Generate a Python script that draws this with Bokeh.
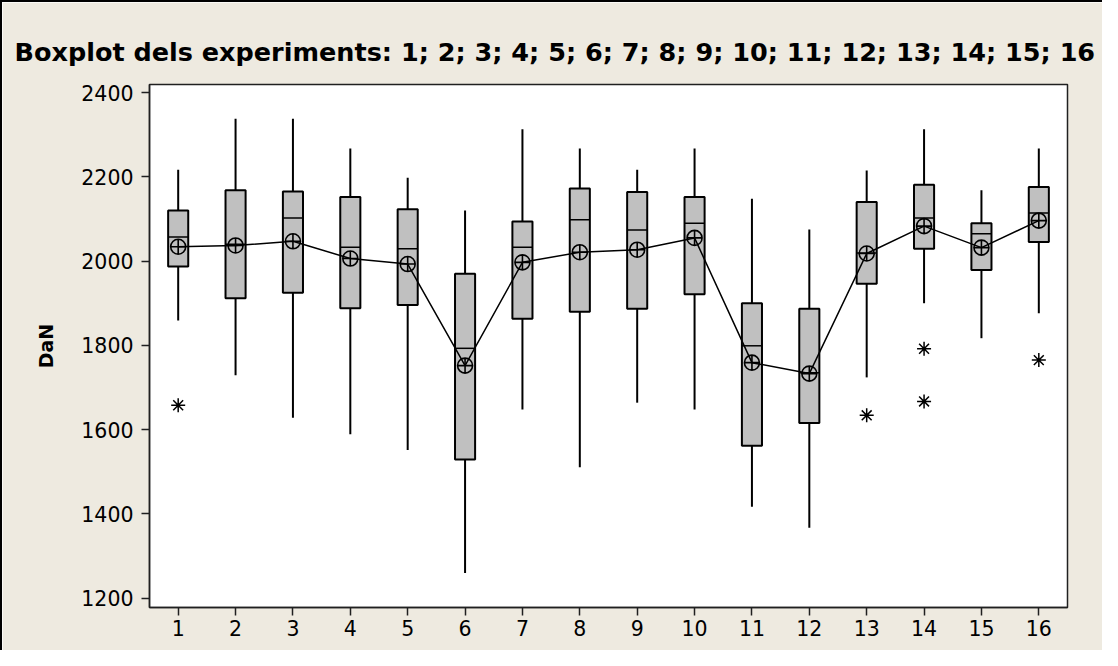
from bokeh.plotting import figure
from bokeh.models import Range1d, FixedTicker
from bokeh.embed import file_html
from bokeh.resources import INLINE

# ---- data ----
experiments = [1, 2, 3, 4, 5, 6, 7, 8, 9, 10, 11, 12, 13, 14, 15, 16]
whisker_high = [2217, 2338, 2338, 2267, 2198, 2120, 2313, 2267, 2217, 2267, 2148, 2075, 2215, 2313, 2168, 2267]
q3 = [2120, 2168, 2165, 2152, 2123, 1970, 2094, 2172, 2164, 2152, 1900, 1887, 2140, 2181, 2090, 2176]
median = [2057, 2040, 2102, 2033, 2029, 1793, 2033, 2098, 2074, 2090, 1799, 1735, 2019, 2102, 2065, 2114]
q1 = [1987, 1912, 1925, 1888, 1896, 1529, 1863, 1880, 1887, 1921, 1562, 1616, 1946, 2029, 1979, 2045]
whisker_low = [1859, 1729, 1628, 1589, 1552, 1260, 1648, 1511, 1664, 1648, 1417, 1367, 1724, 1900, 1817, 1876]
mean = [2034, 2037, 2047, 2006, 1993, 1752, 1997, 2021, 2027, 2055, 1759, 1733, 2018, 2083, 2032, 2096]
outlier_x = [1, 13, 14, 14, 16]
outlier_y = [1658, 1634, 1792, 1667, 1765]

title_text = "Boxplot dels experiments: 1; 2; 3; 4; 5; 6; 7; 8; 9; 10; 11; 12; 13; 14; 15; 16"
y_ticks = [1200, 1400, 1600, 1800, 2000, 2200, 2400]

BEIGE = "#EEEAE0"
BOX_W = 0.35
FONT = "DejaVu Sans"

p = figure(width=1102, height=650, output_backend="svg", toolbar_location=None,
           x_range=Range1d(0.5, 16.5), y_range=Range1d(1178, 2419),
           min_border_left=147, min_border_right=37, min_border_top=82, min_border_bottom=45)

p.background_fill_color = "white"
p.border_fill_color = BEIGE
p.outline_line_color = "#202020"
p.outline_line_width = 1.5
p.xgrid.visible = False
p.ygrid.visible = False

p.title.text = title_text
p.title.text_font = FONT
p.title.text_font_style = "bold"
p.title.text_font_size = "25.5px"
p.title.text_color = "black"
p.title.align = "left"
p.title.offset = -135
p.title.standoff = 35

for ax in (p.xaxis[0], p.yaxis[0]):
    ax.axis_line_color = "#202020"
    ax.axis_line_width = 1.5
    ax.major_tick_line_color = "#202020"
    ax.major_tick_line_width = 1.5
    ax.major_tick_out = 8
    ax.major_tick_in = 0
    ax.minor_tick_line_color = None
    ax.major_label_text_font = FONT
    ax.major_label_text_font_size = "20.5px"
    ax.major_label_text_color = "black"

p.xaxis.ticker = FixedTicker(ticks=experiments)
p.xaxis.major_label_standoff = 4
p.yaxis.ticker = FixedTicker(ticks=y_ticks)
p.yaxis.major_label_standoff = 8
p.yaxis.axis_label = "DaN"
p.yaxis.axis_label_text_font = FONT
p.yaxis.axis_label_text_font_style = "bold"
p.yaxis.axis_label_text_font_size = "19px"
p.yaxis.axis_label_text_color = "black"
p.yaxis.axis_label_standoff = 21

# whiskers
p.segment(x0=experiments, y0=whisker_low, x1=experiments, y1=whisker_high,
          line_color="black", line_width=2)
# boxes
p.vbar(x=experiments, width=BOX_W, bottom=q1, top=q3,
       fill_color="#C0C0C0", line_color="black", line_width=2)
# medians
p.segment(x0=[x - BOX_W / 2 for x in experiments], y0=median,
          x1=[x + BOX_W / 2 for x in experiments], y1=median,
          line_color="black", line_width=1.5)
# mean connect line
p.line(experiments, mean, line_color="black", line_width=1.5)
p.scatter(experiments, mean, marker="circle_cross", size=15,
          fill_alpha=0, line_color="black", line_width=1.6)
# outliers
p.scatter(outlier_x, outlier_y, marker="asterisk", size=14,
          line_color="black", line_width=1.5)

p.styles = {"border-top": "2px solid black", "border-left": "2px solid black"}

open("out.html", "w").write(file_html(p, INLINE))
